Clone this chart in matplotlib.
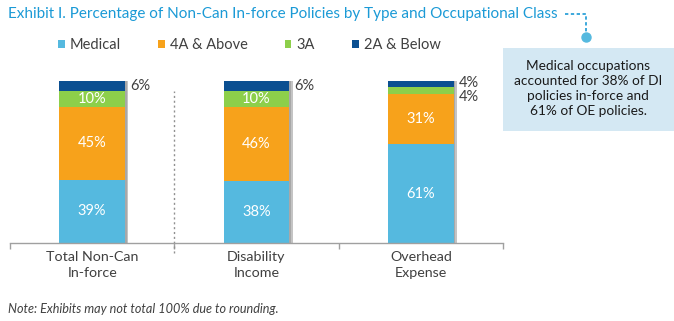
import matplotlib
matplotlib.use("Agg")
import matplotlib.pyplot as plt
import numpy as np

plt.rcParams['font.family'] = ['Lato', 'DejaVu Sans']

categories = ["Total Non-Can\nIn-force", "Disability\nIncome", "Overhead\nExpense"]
series_names = ["Medical", "4A & Above", "3A", "2A & Below"]
medical = [39, 38, 61]
above_4a = [45, 46, 31]
class_3a = [10, 10, 4]
below_2a = [6, 6, 4]
colors = ['#55B9DF', '#F7A21B', '#8DCF4A', '#0B4F91']

title = "Exhibit I. Percentage of Non-Can In-force Policies by Type and Occupational Class"
callout = "Medical occupations\naccounted for 38% of DI\npolicies in-force and\n61% of OE policies."
note = "Note: Exhibits may not total 100% due to rounding."

W, H = 674, 321
fig = plt.figure(figsize=(W / 100, H / 100), dpi=100)

def fx(px):
    return px / W

def fy(py):
    return 1 - py / H

ax = fig.add_axes([fx(10), fy(243), fx(493), 162 / H])
x = np.arange(len(categories))
width = 0.4
series = [medical, above_4a, class_3a, below_2a]

# shadow behind the bars
totals = np.sum(series, axis=0)
ax.bar(x + 0.02, totals, width, bottom=0, color='#C4C4C4', zorder=1, linewidth=0)
ax.bar(x + 0.01, totals, width, bottom=0, color='#A8A8A8', zorder=1.5, linewidth=0)

bottom = np.zeros(len(categories))
for vals, name, c in zip(series, series_names, colors):
    vals = np.array(vals)
    ax.bar(x, vals, width, bottom=bottom, color=c, label=name, zorder=2, linewidth=0)
    bottom += vals

# inside labels
for i in range(len(categories)):
    b = 0
    for j, vals in enumerate(series):
        v = vals[i]
        mid = b + v / 2
        if v >= 8:
            ax.text(x[i], mid, f"{v}%", color='white', ha='center', va='center', fontsize=10.5, zorder=3)
        b += v

# outside labels
lab_kw = dict(ha='left', va='center', fontsize=10.5, color='#404040')
ax.text(x[0] + width / 2 + 0.03, 100 - below_2a[0] / 2, f"{below_2a[0]}%", **lab_kw)
ax.text(x[1] + width / 2 + 0.03, 100 - below_2a[1] / 2, f"{below_2a[1]}%", **lab_kw)
ax.text(x[2] + width / 2 + 0.03, 100 - below_2a[2] / 2 + 1, f"{below_2a[2]}%", **lab_kw)
ax.text(x[2] + width / 2 + 0.03, 100 - below_2a[2] - class_3a[2] / 2 - 4, f"{class_3a[2]}%", **lab_kw)

ax.set_xlim(-0.5, 2.5)
ax.set_ylim(0, 100)
for s in ['top', 'right', 'left']:
    ax.spines[s].set_visible(False)
ax.spines['bottom'].set_color('#A0A0A0')
ax.spines['bottom'].set_linewidth(1)
ax.set_yticks([])
ax.set_xticks([-0.5, 0.5, 1.5, 2.5])
ax.set_xticklabels([])
ax.tick_params(axis='x', direction='out', length=4, color='#A0A0A0', width=1)
ax.set_xticks(x, minor=True)
ax.set_xticklabels(categories, minor=True, fontsize=10.3, color='#404040', linespacing=1.35)
ax.tick_params(axis='x', which='minor', length=0, pad=6)

# dotted separator
ax.plot([0.5, 0.5], [-6, 94], color='#909090', linestyle=(0, (1.5, 2)), lw=1, clip_on=False)

# legend
leg = fig.legend(loc='center left', bbox_to_anchor=(fx(58), fy(45)), ncol=4, frameon=False,
                 fontsize=10.5, handlelength=0.45, handleheight=0.45, handletextpad=0.35,
                 columnspacing=2.55, labelcolor='#404040', borderpad=0, borderaxespad=0)

fig.text(fx(8), fy(14), title, color='#1B9AD6', fontsize=11, ha='left', va='center')

# leader line and dot
fig.add_artist(plt.Line2D([fx(565), fx(586), fx(586)], [fy(14), fy(14), fy(34)],
                          color='#1B9AD6', lw=1.2, linestyle=(0, (2, 1.5)), transform=fig.transFigure))
fig.add_artist(plt.Line2D([fx(586)], [fy(37)], marker='o', markersize=6.5, color='#55B9DF',
                          linestyle='none', transform=fig.transFigure, zorder=5))

# callout box
fig.patches.append(plt.Rectangle((fx(503), fy(131)), fx(171), 83 / H, transform=fig.transFigure,
                                 facecolor='#D4E8F3', edgecolor='none', zorder=0))
fig.text(fx(588), fy(89), callout, ha='center', va='center', fontsize=9.8, color='#1A1A1A',
         linespacing=1.3)

fig.text(fx(8), fy(309), note, ha='left', va='center', fontsize=9.1, style='italic', color='#404040')

fig.savefig("out.png", dpi=100)
